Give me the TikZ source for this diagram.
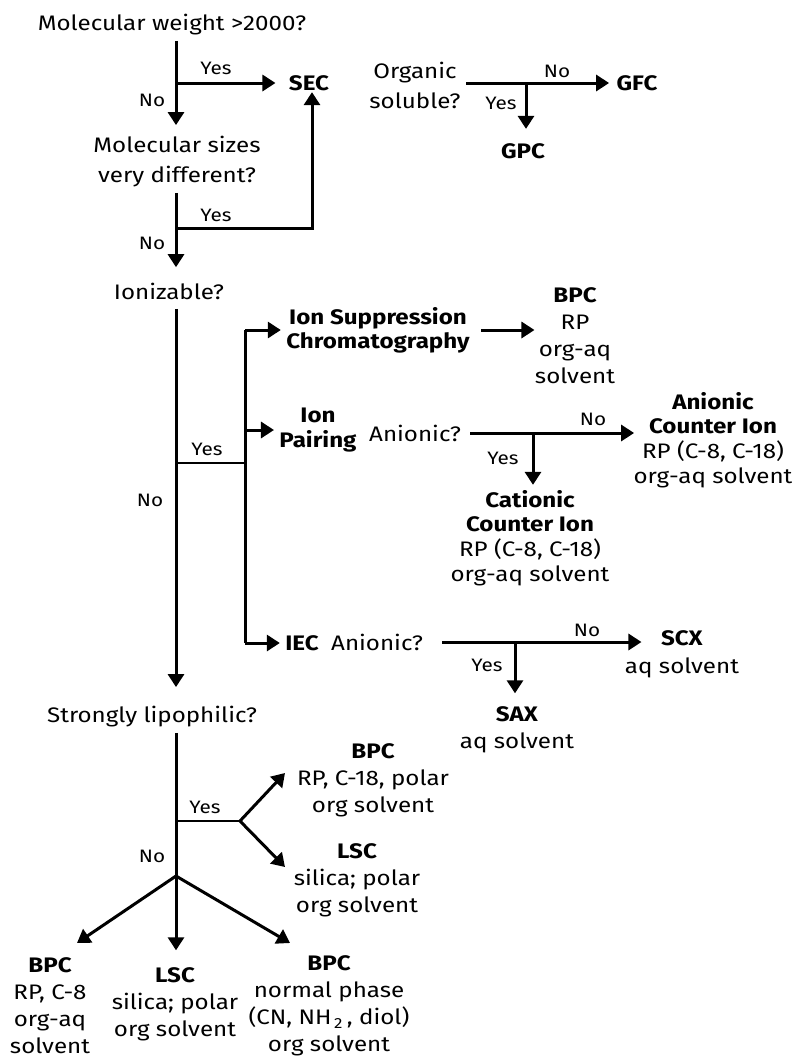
\documentclass[tikz,border=0pt]{standalone}
\usepackage{fontspec}
\setmainfont{Fira Sans}[FakeStretch=1.15]
\usetikzlibrary{arrows.meta}

\begin{document}
\begin{tikzpicture}[x=0.5pt,y=-0.5pt,line width=1.5pt]
\tikzstyle{q} = [align=center, inner sep=2pt, font=\fontsize{10.5}{13.5}\selectfont]
\tikzstyle{res} = [align=center, inner sep=2pt, font=\fontsize{10.5}{13.5}\selectfont]
\tikzstyle{tight} = [align=center, inner sep=2pt, font=\fontsize{10.5}{12.3}\selectfont]
\tikzstyle{lbl} = [inner sep=0pt, font=\fontsize{9}{10}\selectfont]
\tikzstyle{arr} = [-{Triangle[length=6.5pt,width=8pt]}]
\tikzstyle{branch} = [line width=1.1pt]
\useasboundingbox (0,0) rectangle (792,1057);

% questions and results
\node[q] (mw) at (172,25) {Molecular weight >2000?};
\node[res] (sec) at (309,83) {\bfseries SEC};
\node[q, font=\fontsize{10.5}{15}\selectfont] (ms) at (177,162) {Molecular sizes\\very different?};
\node[q] (ion) at (169,291) {Ionizable?};
\node[q, font=\fontsize{10.5}{15}\selectfont] (org) at (415,85) {Organic\\soluble?};
\node[res] (gfc) at (637,83) {\bfseries GFC};
\node[res] (gpc) at (523,151) {\bfseries GPC};
\node[tight, font=\fontsize{10.5}{12}\selectfont\bfseries] (isc) at (378,330) {Ion Suppression\\Chromatography};
\node[res] (bpc1) at (575,336) {\textbf{BPC}\\RP\\org-aq\\solvent};
\node[tight, font=\fontsize{10.5}{12.5}\selectfont\bfseries] (ip) at (318,430) {Ion\\Pairing};
\node[q] (an1) at (415,433) {Anionic?};
\node[tight] (aci) at (713,440) {\textbf{Anionic}\\\textbf{Counter Ion}\\RP (C-8, C-18)\\org-aq solvent};
\node[tight] (cci) at (530,538) {\textbf{Cationic}\\\textbf{Counter Ion}\\RP (C-8, C-18)\\org-aq solvent};
\node[res] (iec) at (302,643) {\bfseries IEC};
\node[q] (an2) at (377,642) {Anionic?};
\node[res, font=\fontsize{10.5}{14}\selectfont] (scx) at (682,654) {\textbf{SCX}\\aq solvent};
\node[res] (sax) at (517,730) {\textbf{SAX}\\aq solvent};
\node[q] (lip) at (152,717) {Strongly lipophilic?};
\node[res] (bpc2) at (373,780) {\textbf{BPC}\\RP, C-18, polar\\org solvent};
\node[res] (lsc1) at (357,880) {\textbf{LSC}\\silica; polar\\org solvent};
\node[res] (bpc3) at (50,1006) {\textbf{BPC}\\RP, C-8\\org-aq\\solvent};
\node[res] (lsc2) at (175,1004.5) {\textbf{LSC}\\silica; polar\\org solvent};
\node[res] (bpc4) at (329,1006) {\textbf{BPC}\\normal phase\\(CN, NH\textsubscript{\,2}\,, diol)\\org solvent};

% yes / no
\node[lbl] (y1) at (216,68) {Yes};
\node[lbl] (n1) at (152,100) {No};
\node[lbl] (y2) at (216,215) {Yes};
\node[lbl] (n2) at (152,243) {No};
\node[lbl] (n3) at (557,71) {No};
\node[lbl] (y3) at (501,103) {Yes};
\node[lbl] (y4) at (207,449) {Yes};
\node[lbl] (n4) at (150,500) {No};
\node[lbl] (y5) at (503,458) {Yes};
\node[lbl] (n5) at (593,419) {No};
\node[lbl] (y6) at (487,665) {Yes};
\node[lbl] (n6) at (587,630) {No};
\node[lbl] (y7) at (205,807) {Yes};
\node[lbl] (n7) at (152,856) {No};

% junctions
\coordinate (j1) at (176,83);
\coordinate (j2) at (176,228);
\coordinate (j3) at (526,83);
\coordinate (j4) at (176,463);
\coordinate (j5) at (245,463);
\coordinate (j6) at (533,433);
\coordinate (j7) at (515,642);
\coordinate (j8) at (176,821);
\coordinate (j9) at (176,876);
\coordinate (j10) at (240,821);

\draw[arr, shorten >=3pt] (mw.south -| j1) -- (ms.north -| j1);
\draw[arr, shorten >=4pt] (j1) -- (sec);
\draw[arr, shorten >=5pt] (ms.south -| j2) -- (ion.north -| j2);
\draw[arr, shorten >=-2pt] (j2) -| ([xshift=1.5pt]sec.south);
\draw[arr, shorten >=1pt] (org.east |- gfc) -- (gfc);
\draw[arr, shorten >=4.5pt] (j3) -- (j3 |- gpc.north);

\draw[arr, shorten <=2pt, shorten >=7pt] (ion.south -| j4) -- (lip.north -| j4);
\draw[branch] (j4) -- (j5);
\draw (j5 |- isc) -- (j5 |- iec);
\draw[arr] (j5 |- isc) -- (isc);
\draw[arr] (j5 |- ip) -- (ip);
\draw[arr] (j5 |- iec) -- (iec);
\draw[arr, shorten <=3pt, shorten >=-2.5pt] (isc.east) -- (isc.east -| bpc1.west);
\draw[arr, shorten <=2pt, shorten >=-3pt] (an1.east) -- (an1.east -| aci.west);
\draw[arr] (j6) -- (j6 |- cci.north);
\draw[arr, shorten <=7pt, shorten >=-11pt] (an2.east) -- (an2.east -| scx.west);
\draw[arr, shorten >=4pt] (j7) -- (j7 |- sax.north);

\draw (lip.south -| j8) -- (j9);
\draw[branch] (j8) -- (j10);
\draw[arr] (j10) -- ([shift={(-88,-7)}]bpc2.center);
\draw[arr] (j10) -- ([shift={(-72,-13)}]lsc1.center);
\draw[arr] (j9) -- ([shift={(27,-63)}]bpc3.center);
\draw[arr, shorten >=6pt] (j9) -- (j9 |- lsc2.north);
\draw[arr] (j9) -- ([shift={(-39,-63)}]bpc4.center);

\end{tikzpicture}
\end{document}
